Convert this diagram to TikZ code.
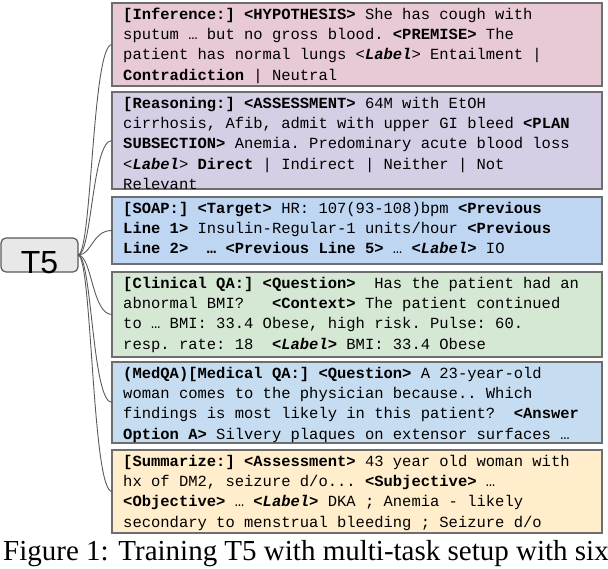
\documentclass[tikz,border=0pt]{standalone}
\usepackage{fontspec}
\setmainfont{Liberation Serif}
\setsansfont{Liberation Sans}
\setmonofont{Liberation Mono}
\definecolor{c1}{HTML}{E8CAD6}
\definecolor{c2}{HTML}{D6CEE4}
\definecolor{c3}{HTML}{BFD6F3}
\definecolor{c4}{HTML}{D5E8D4}
\definecolor{c5}{HTML}{C6DCF0}
\definecolor{c6}{HTML}{FFEDCB}
\definecolor{bordergray}{HTML}{6E6E6E}
\definecolor{linegray}{HTML}{5A5A5A}
\tikzset{
  taskbox/.style={draw=bordergray, line width=1.5pt, rectangle, minimum width=490pt, inner sep=0pt, outer sep=0pt},
  tasktext/.style={anchor=north west, inner sep=0pt, align=left, font=\ttfamily\fontsize{15.5}{20.3}\selectfont},
  conn/.style={draw=linegray, line width=0.9pt},
  rootbox/.style={draw=linegray, line width=1.2pt, fill=gray!18, rounded corners=5pt, minimum width=77pt, minimum height=34pt, inner sep=0pt, outer sep=0pt},
}
\newcommand{\lbl}{\textbf{\textit{Label}}}
\newcommand{\st}{\rule{0pt}{13pt}}
\begin{document}
\begin{tikzpicture}[x=1pt,y=-1pt]
\useasboundingbox (0,0) rectangle (608,568);
% boxes
\node[taskbox, fill=c1, minimum height=83pt] (b1) at (357,44.5) {};
\node[taskbox, fill=c2, minimum height=97pt] (b2) at (357,140.5) {};
\node[taskbox, fill=c3, minimum height=67pt] (b3) at (357,230.5) {};
\node[taskbox, fill=c4, minimum height=85pt] (b4) at (357,314.5) {};
\node[taskbox, fill=c5, minimum height=81pt] (b5) at (357,402.5) {};
\node[taskbox, fill=c6, minimum height=83pt] (b6) at (357,491.5) {};
% texts
\node[tasktext] (t1) at (123,6) {\st\textbf{[Inference:] <HYPOTHESIS>} She has cough with\\
sputum … but no gross blood. \textbf{<PREMISE>} The\\
patient has normal lungs <\lbl> Entailment |\\
\textbf{Contradiction} | Neutral};
\node[tasktext] (t2) at (123,95) {\st\textbf{[Reasoning:] <ASSESSMENT>} 64M with EtOH\\
cirrhosis, Afib, admit with upper GI bleed \textbf{<PLAN}\\
\textbf{SUBSECTION>} Anemia. Predominary acute blood loss\\
<\lbl> \textbf{Direct} | Indirect | Neither | Not\\
Relevant};
\node[tasktext] (t3) at (123,200) {\st\textbf{[SOAP:] <Target>} HR: 107(93-108)bpm \textbf{<Previous}\\
\textbf{Line 1>} Insulin-Regular-1 units/hour \textbf{<Previous}\\
\textbf{Line 2>~ … <Previous Line 5>} … \textbf{<\textit{Label}>} IO};
\node[tasktext] (t4) at (123,275) {\st\textbf{[Clinical QA:] <Question>}~ Has the patient had an\\
abnormal BMI?~~ \textbf{<Context>} The patient continued\\
to … BMI: 33.4 Obese, high risk. Pulse: 60.\\
resp. rate: 18~ \textbf{<\textit{Label}>} BMI: 33.4 Obese};
\node[tasktext] (t5t) at (123,365) {\st\textbf{(MedQA)[Medical QA:] <Question>} A 23-year-old\\
woman comes to the physician because.. Which\\
findings is most likely in this patient?~ \textbf{<Answer}\\
\textbf{Option A>} Silvery plaques on extensor surfaces …};
\node[tasktext] (t6) at (123,453) {\st\textbf{[Summarize:] <Assessment>} 43 year old woman with\\
hx of DM2, seizure d/o... \textbf{<Subjective>} …\\
\textbf{<Objective>} … \textbf{<\textit{Label}>} DKA ; Anemia - likely\\
secondary to menstrual bleeding ; Seizure d/o};
% root
\node[rootbox] (root) at (39.5,255) {};
\node[anchor=base, inner sep=0pt, font=\sffamily\fontsize{32}{32}\selectfont] (roottxt) at (39.5,273) {T5};
% connectors
\foreach \b in {b1,b2,b3,b4,b5,b6}{
  \draw[conn] (root.east) .. controls +(14,0) and +(-20,0) .. (\b.west);
}
% caption
\node[anchor=base west, inner sep=0pt, font=\fontsize{29}{30}\selectfont] (cap) at (3,560) {Figure 1: Training T5 with multi-task setup with six};
\end{tikzpicture}
\end{document}
